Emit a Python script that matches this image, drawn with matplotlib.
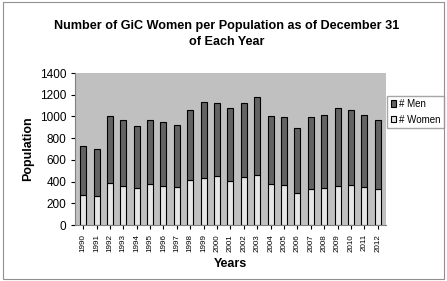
import matplotlib
matplotlib.use("Agg")
import matplotlib.pyplot as plt
from matplotlib.patches import Rectangle

years = [str(y) for y in range(1990, 2013)]
totals = [732, 700, 1003, 966, 917, 969, 951, 920, 1059, 1129, 1123,
          1076, 1123, 1175, 1009, 997, 892, 991, 1012, 1074, 1059, 1018, 969]
women = [277, 271, 385, 363, 345, 375, 363, 348, 418, 431, 449,
         409, 443, 459, 375, 366, 292, 329, 341, 360, 366, 348, 329]
men = [t - w for t, w in zip(totals, women)]

plt.rcParams['font.family'] = ['Liberation Sans', 'DejaVu Sans']

fig = plt.figure(figsize=(4.47, 2.81), dpi=100)
fig.patch.set_facecolor('white')
fig.patches.append(Rectangle((0.006, 0.008), 0.988, 0.984, transform=fig.transFigure,
                             fill=False, edgecolor='#909090', linewidth=0.8))

ax = fig.add_axes([0.168, 0.199, 0.695, 0.541])
ax.set_facecolor('#c0c0c0')
x = range(len(years))
ax.bar(x, women, width=0.45, color='#e6e6e6', edgecolor='black', linewidth=0.8,
       label='# Women')
ax.bar(x, men, width=0.45, bottom=women, color='#636363', edgecolor='black',
       linewidth=0.8, label='# Men')

ax.set_xlim(-0.6, len(years) - 0.4)
ax.set_ylim(0, 1400)
ax.set_yticks(range(0, 1401, 200))
ax.set_xticks(list(x))
ax.set_xticklabels(years, rotation=90, fontsize=5.8)
ax.tick_params(axis='y', labelsize=8.5, length=3)
ax.tick_params(axis='x', length=3)
for s in ['top', 'right']:
    ax.spines[s].set_visible(False)
ax.spines['left'].set_color('#808080')
ax.spines['bottom'].set_color('#808080')

ax.set_ylabel('Population', fontsize=9, fontweight='bold')
ax.set_xlabel('Years', fontsize=9, fontweight='bold', labelpad=4)

fig.text(0.508, 0.88, 'Number of GiC Women per Population as of December 31\nof Each Year',
         ha='center', va='center', fontsize=9.1, fontweight='bold', linespacing=1.45)

handles, labels = ax.get_legend_handles_labels()
leg = fig.legend(handles[::-1], labels[::-1], loc='upper left',
                 bbox_to_anchor=(0.866, 0.66), fontsize=7, frameon=True,
                 fancybox=False, edgecolor='#909090', handlelength=0.6,
                 handleheight=0.6, handletextpad=0.3, borderpad=0.35,
                 labelspacing=0.6, borderaxespad=0)

fig.savefig('out.png', dpi=100)
